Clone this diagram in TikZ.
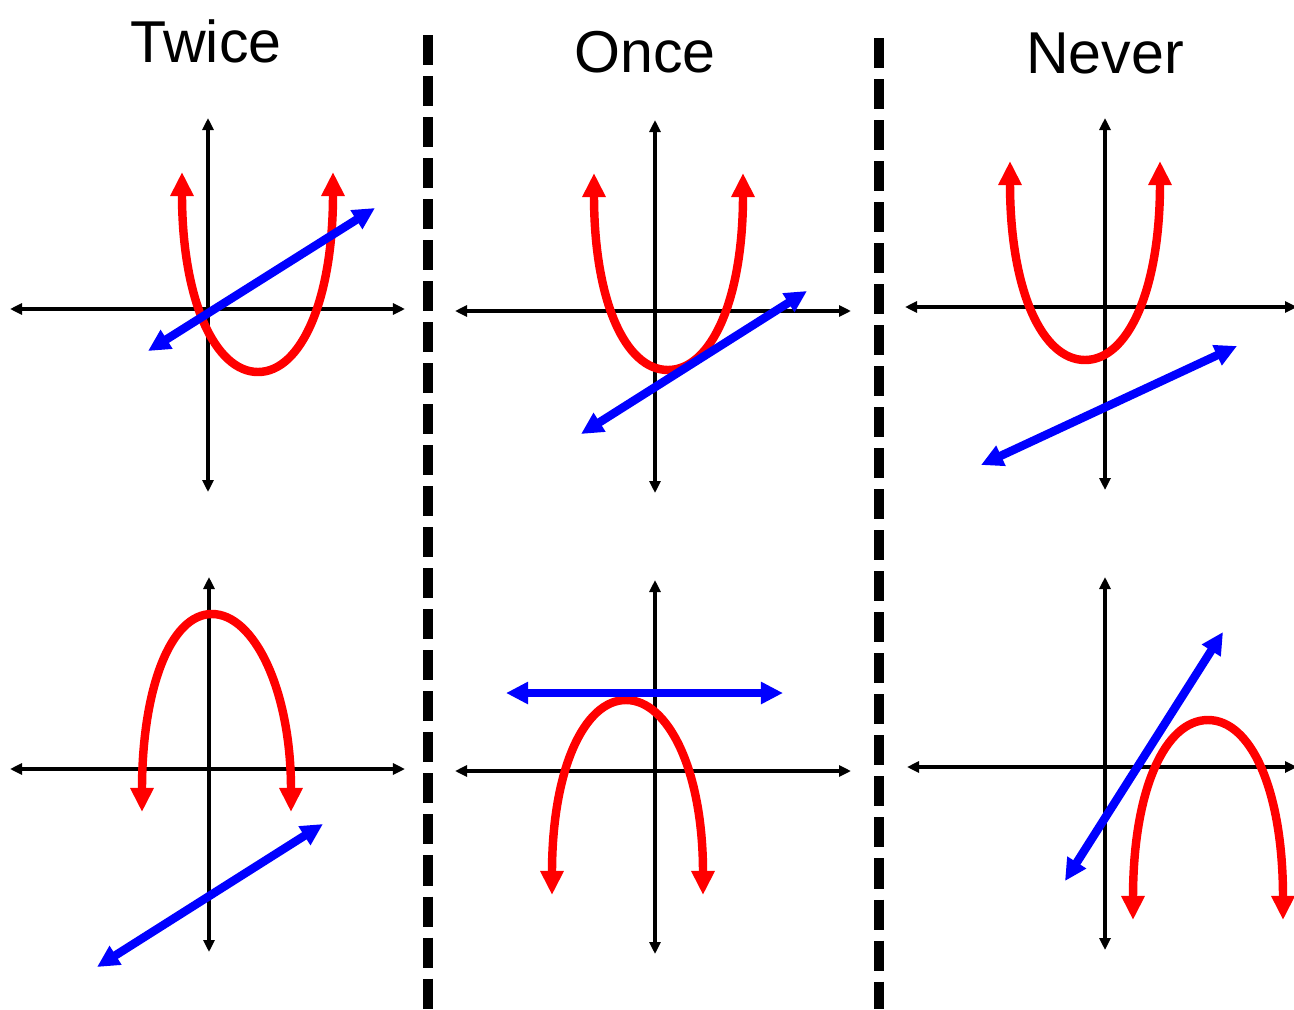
\documentclass[tikz,border=0pt]{standalone}
\usepackage{fontspec}
\setmainfont{Liberation Sans}
\usetikzlibrary{arrows.meta}
\definecolor{pred}{RGB}{255,0,0}
\definecolor{pblue}{RGB}{0,0,255}
\tikzset{
  axis/.style={line width=1.15pt, black, {Triangle[length=0.12cm,width=0.11cm]}-{Triangle[length=0.12cm,width=0.11cm]}},
  parab/.style={line width=2.4pt, pred, {Triangle[length=0.24cm,width=0.22cm]}-{Triangle[length=0.24cm,width=0.22cm]}},
  bline/.style={line width=2.4pt, pblue, {Triangle[length=0.22cm,width=0.21cm]}-{Triangle[length=0.22cm,width=0.21cm]}},
  divider/.style={line width=2.6pt, black, dash pattern=on 0.30cm off 0.11cm},
  title/.style={font=\fontsize{16.8pt}{18pt}\selectfont, anchor=base, inner sep=0pt}
}
\begin{document}
\begin{tikzpicture}[x=0.01cm, y=-0.01cm]
\useasboundingbox (0,0) rectangle (1294,1009);
% titles
\node[title] (t1) at (206,62) {Twice};
\node[title] (t2) at (645,72) {Once};
\node[title] (t3) at (1105,73) {Never};
% dividers
\draw[divider] (428,35) -- (428,1009);
\draw[divider] (879,38) -- (879,1009);
% Panel 1
\draw[axis] (10,309) -- (405,309);
\draw[axis] (208,118) -- (208,492);
\draw[parab] (182,172) .. controls (182,300) and (215,372) .. (258,372) .. controls (301,372) and (333,300) .. (333,172);
\draw[bline] (148,351) -- (375,208);
% Panel 2
\draw[axis] (455,311) -- (851,311);
\draw[axis] (655,120) -- (655,493);
\draw[parab] (594,173) .. controls (594,300) and (625,370) .. (668,370) .. controls (711,370) and (743,300) .. (743,173);
\draw[bline] (581,434) -- (807,291);
% Panel 3
\draw[axis] (905,307) -- (1297,307);
\draw[axis] (1105,118) -- (1105,490);
\draw[parab] (1010,161) .. controls (1010,290) and (1042,360) .. (1085,360) .. controls (1128,360) and (1160,290) .. (1160,161);
\draw[bline] (981,465) -- (1237,346);
% Panel 4
\draw[axis] (10,769) -- (405,769);
\draw[axis] (209,577) -- (209,952);
\draw[parab] (142,812) .. controls (142,690) and (170,614) .. (212,614) .. controls (254,614) and (291,690) .. (291,812);
\draw[bline] (97,967) -- (323,824);
% Panel 5
\draw[axis] (455,771) -- (851,771);
\draw[axis] (655,580) -- (655,954);
\draw[parab] (552,895) .. controls (552,770) and (584,700) .. (626,700) .. controls (668,700) and (703,770) .. (703,895);
\draw[bline] (506,693) -- (783,693);
% Panel 6
\draw[axis] (907,767) -- (1297,767);
\draw[axis] (1105,577) -- (1105,950);
\draw[parab] (1133,920) .. controls (1133,790) and (1165,720) .. (1208,720) .. controls (1251,720) and (1283,790) .. (1283,920);
\draw[bline] (1065,881) -- (1223,632);
\end{tikzpicture}
\end{document}
